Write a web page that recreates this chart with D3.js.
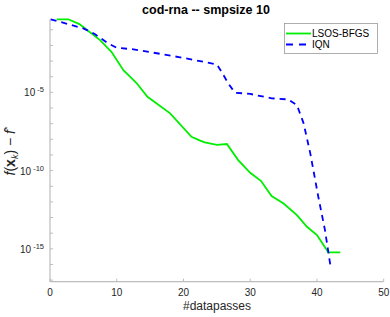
<!DOCTYPE html>
<html lang="en">
<head>
    <meta charset="UTF-8">
    <title>cod-rna -- smpsize 10</title>
    <script src="https://d3js.org/d3.v7.min.js"></script>
    <style>
        body {
            margin: 0;
            background: #fff;
        }
        text {
            font-family: 'Liberation Sans', Arial, sans-serif;
        }
        .tick-label {
            font-size: 10px;
            fill: #262626;
        }
    </style>
</head>
<body>
    <svg id="chart"></svg>

    <script>
        // data (x = datapasses, y = log10 of f(x_k) - f*)
        const lsosX = [1.0, 2.75, 4.4, 7.5, 9.2, 11, 13, 14.6, 18, 21.2, 22.5, 23.2, 25, 26.5, 28.2, 30, 31.6, 33.2, 35, 37, 38.5, 40, 41.7, 43.5];
        const lsosY = [-0.33, -0.33, -0.64, -1.66, -2.41, -3.58, -4.42, -5.28, -6.34, -7.84, -8.08, -8.2, -8.35, -8.3, -9.33, -10.14, -10.65, -11.63, -12.1, -12.84, -13.59, -14.12, -15.22, -15.22];
        const iqnX = [0.1, 5, 6.7, 8.7, 10, 12.5, 16, 19.5, 21.7, 25, 25.7, 26.7, 27.7, 30, 33.2, 35.7, 37, 38, 39, 40.2, 41.2, 42];
        const iqnY = [-0.33, -0.91, -1.27, -1.87, -2.15, -2.25, -2.5, -2.76, -2.94, -3.21, -3.68, -4.42, -5.02, -5.1, -5.38, -5.45, -5.81, -6.98, -8.9, -11.67, -13.8, -16.03];
        const xTicks = [0, 10, 20, 30, 40, 50];
        const yTickExps = [-5, -10, -15];
        const seriesNames = ["LSOS-BFGS", "IQN"];

        const width = 390, height = 317;
        const svg = d3.select("#chart").attr("width", width).attr("height", height);

        const x = d3.scaleLinear().domain([0, 50]).range([50, 383.7]);
        const y = d3.scaleLog().domain([Math.pow(10, -17.1), Math.pow(10, -0.33)]).range([281.7, 19.3]);

        const axisColor = "#bdbdbd";

        // axis lines
        svg.append("line")
            .attr("x1", x(0)).attr("x2", x(50))
            .attr("y1", y.range()[0]).attr("y2", y.range()[0])
            .attr("stroke", axisColor).attr("stroke-width", 1.2);
        svg.append("line")
            .attr("x1", x(0)).attr("x2", x(0))
            .attr("y1", y.range()[0]).attr("y2", y.range()[1])
            .attr("stroke", axisColor).attr("stroke-width", 1.2);

        // x ticks
        const xg = svg.append("g");
        xg.selectAll("line").data(xTicks).join("line")
            .attr("x1", d => x(d)).attr("x2", d => x(d))
            .attr("y1", y.range()[0]).attr("y2", y.range()[0] - 3)
            .attr("stroke", axisColor);
        xg.selectAll("text").data(xTicks).join("text")
            .attr("class", "tick-label")
            .attr("x", d => x(d)).attr("y", 296)
            .attr("text-anchor", "middle")
            .text(d => d);

        // y ticks, one per decade
        const decades = d3.range(-1, -18, -1);
        svg.append("g").selectAll("line").data(decades).join("line")
            .attr("x1", x(0)).attr("x2", x(0) + 3)
            .attr("y1", d => y(Math.pow(10, d))).attr("y2", d => y(Math.pow(10, d)))
            .attr("stroke", axisColor);
        const yl = svg.append("g").selectAll("text").data(yTickExps).join("text")
            .attr("class", "tick-label")
            .attr("x", 44).attr("y", d => y(Math.pow(10, d)) + 4)
            .attr("text-anchor", "end");
        yl.append("tspan").text("10");
        yl.append("tspan").attr("dy", -4).attr("font-size", "7.5px").text(d => " " + d);

        // lines
        const line = d3.line().x(d => x(d[0])).y(d => y(Math.pow(10, d[1])));
        svg.append("path")
            .datum(lsosX.map((v, i) => [v, lsosY[i]]))
            .attr("d", line)
            .attr("fill", "none").attr("stroke", "#00ee00").attr("stroke-width", 1.8);
        svg.append("path")
            .datum(iqnX.map((v, i) => [v, iqnY[i]]))
            .attr("d", line)
            .attr("fill", "none").attr("stroke", "#0000ff").attr("stroke-width", 1.8)
            .attr("stroke-dasharray", "6,5");

        // title
        svg.append("text")
            .attr("x", 206).attr("y", 14)
            .attr("text-anchor", "middle")
            .attr("font-weight", "bold").attr("font-size", "12.5px")
            .attr("fill", "#000")
            .text("cod-rna -- smpsize 10");

        // x label
        svg.append("text")
            .attr("x", 217).attr("y", 310)
            .attr("text-anchor", "middle")
            .attr("font-size", "12px").attr("fill", "#262626")
            .text("#datapasses");

        // y label
        const ylab = svg.append("text")
            .attr("transform", "translate(15,151) rotate(-90)")
            .attr("text-anchor", "middle")
            .attr("font-family", "'DejaVu Serif', serif")
            .attr("font-size", "14px").attr("fill", "#262626");
        ylab.append("tspan").attr("font-style", "italic").text("f");
        ylab.append("tspan").text("(");
        ylab.append("tspan").attr("font-weight", "bold").text("x");
        ylab.append("tspan").attr("font-style", "italic").attr("font-size", "9px").attr("dy", 3).text("k");
        ylab.append("tspan").attr("dy", -3).text(") \u2212 ");
        ylab.append("tspan").attr("font-style", "italic").text("f");
        ylab.append("tspan").attr("font-size", "9px").attr("dy", -5).text("*");

        // legend
        const lg = svg.append("g");
        lg.append("rect")
            .attr("x", 284.5).attr("y", 23.5).attr("width", 93).attr("height", 30)
            .attr("fill", "#fff").attr("stroke", "#999").attr("stroke-width", 0.8);
        const colors = ["#00ee00", "#0000ff"];
        const dashes = [null, "7,6"];
        seriesNames.forEach((name, i) => {
            const yy = 33.5 + i * 11;
            lg.append("line")
                .attr("x1", 286).attr("x2", 311)
                .attr("y1", yy).attr("y2", yy)
                .attr("stroke", colors[i]).attr("stroke-width", 1.8)
                .attr("stroke-dasharray", dashes[i]);
            lg.append("text")
                .attr("x", 312).attr("y", yy + 3.5)
                .attr("font-size", "10px").attr("fill", "#000")
                .text(name);
        });
    </script>
</body>
</html>
